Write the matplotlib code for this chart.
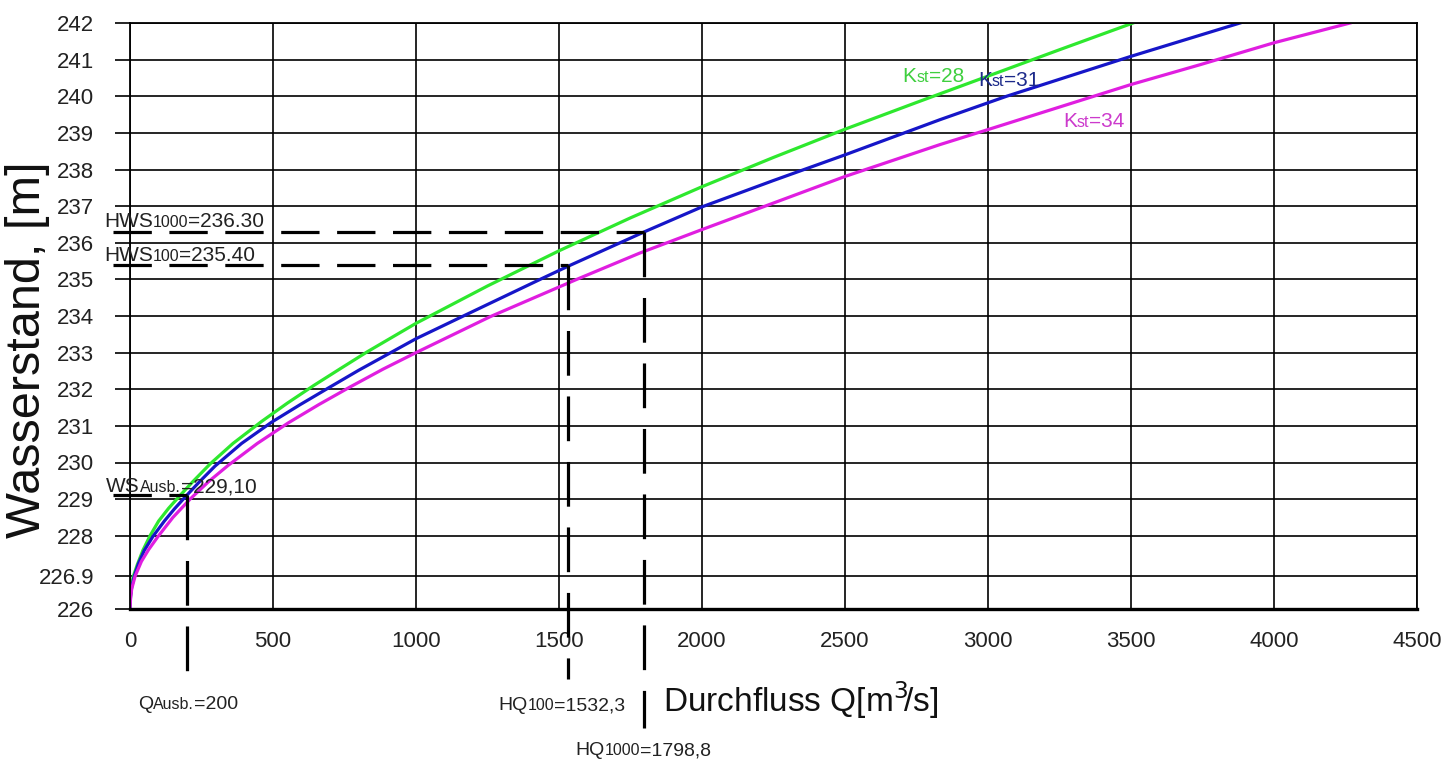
import numpy as np
import matplotlib
matplotlib.use('Agg')
import matplotlib.pyplot as plt
from matplotlib import font_manager as fm
from matplotlib import transforms

# Daten
q_k28 = [0, 2, 6, 12, 25, 45, 70, 100, 135, 175, 220, 280, 360, 460, 550, 642, 735, 829,
         1000, 1250, 1500, 1750, 2000, 2250, 2500, 2750, 3000, 3250, 3507]
h_k28 = [226, 226.4, 226.7, 226.9, 227.2, 227.6, 228, 228.4, 228.75, 229.1, 229.48, 229.96,
         230.52, 231.12, 231.62, 232.1, 232.56, 233.02, 233.8, 234.82, 235.78, 236.68, 237.53,
         238.33, 239.1, 239.83, 240.55, 241.27, 242]

q_k31 = [0, 2, 6, 15, 30, 50, 80, 120, 155, 192, 240, 297, 390, 495, 595, 697, 800, 907,
         1000, 1171, 1434, 1532, 1799, 2000, 2250, 2500, 2832, 3065, 3500, 3881]
h_k31 = [226, 226.35, 226.6, 226.9, 227.25, 227.6, 227.98, 228.4, 228.73, 229.05, 229.45,
         229.9, 230.52, 231.1, 231.58, 232.05, 232.52, 232.98, 233.38, 234.02, 235, 235.36,
         236.3, 236.98, 237.7, 238.4, 239.36, 240, 241.09, 242]

q_k34 = [0, 2, 6, 18, 40, 65, 98, 150, 210, 275, 343, 445, 553, 660, 769, 885, 1000, 1259,
         1562, 1783, 2000, 2500, 2832, 3000, 3500, 3741, 4000, 4266]
h_k34 = [226, 226.3, 226.55, 226.9, 227.3, 227.62, 227.98, 228.5, 229, 229.48, 229.92, 230.52,
         231.08, 231.58, 232.06, 232.55, 233, 233.98, 235, 235.72, 236.36, 237.81, 238.68,
         239.09, 240.32, 240.86, 241.46, 242]

x_ticks = [0, 500, 1000, 1500, 2000, 2500, 3000, 3500, 4000, 4500]
y_ticks = [226, 226.9, 228, 229, 230, 231, 232, 233, 234, 235, 236, 237, 238, 239, 240, 241, 242]
y_ticklabels = ['226', '226.9', '228', '229', '230', '231', '232', '233', '234', '235',
                '236', '237', '238', '239', '240', '241', '242']

# Bemessungswerte
q_ausb, ws_ausb = 200, 229.10
hq100, hws100 = 1532.3, 235.40
hq1000, hws1000 = 1798.8, 236.30

names = {f.name for f in fm.fontManager.ttflist}
narrow = 'Liberation Sans Narrow' if 'Liberation Sans Narrow' in names else 'Liberation Sans'

fig = plt.figure(figsize=(14.53, 7.6), dpi=100)
ax = fig.add_axes([130 / 1453, 1 - 609 / 760, 1287 / 1453, 586 / 760])

ax.plot(q_k28, h_k28, color='#2ee82e', lw=2.3)
ax.plot(q_k31, h_k31, color='#1616c8', lw=2.3)
ax.plot(q_k34, h_k34, color='#e01ee0', lw=2.3)

ax.set_xlim(0, 4500)
ax.set_ylim(226, 242)
ax.set_xticks(x_ticks)
ax.set_yticks(y_ticks)
ax.set_yticklabels(y_ticklabels)
ax.grid(True, color='black', lw=1.2)
ax.set_axisbelow(True)
for s in ax.spines.values():
    s.set_linewidth(1.3)
ax.spines['bottom'].set_linewidth(2.4)
ax.tick_params(axis='y', length=11, width=1.2, direction='out', pad=15, labelsize=16)
ax.tick_params(axis='x', length=0, pad=16, labelsize=16)
for lab in ax.get_xticklabels() + ax.get_yticklabels():
    lab.set_family(narrow)
    lab.set_color('#222222')

# gestrichelte Hilfslinien
dash = (0, (12, 5.5))
dash_v = (0, (14, 6.5))
ax.plot([-59, q_ausb], [ws_ausb, ws_ausb], color='black', lw=2.3, ls=dash, clip_on=False)
ax.plot([q_ausb, q_ausb], [ws_ausb, 224.06], color='black', lw=2.3, ls=dash_v, clip_on=False)
ax.plot([-59, hq100], [hws100, hws100], color='black', lw=2.3, ls=dash, clip_on=False)
ax.plot([hq100, hq100], [hws100, 224.09], color='black', lw=2.3, ls=dash_v, clip_on=False)
ax.plot([-59, hq1000], [hws1000, hws1000], color='black', lw=2.3, ls=dash, clip_on=False)
ax.plot([hq1000, hq1000], [hws1000, 222.75], color='black', lw=2.3, ls=dash_v, clip_on=False)

renderer = fig.canvas.get_renderer()


def parts_text(x, y, parts, color='#222222'):
    # Text aus Teilen mit verschiedenen Schriftgroessen, gleiche Grundlinie
    tr = ax.transData
    for s, size in parts:
        t = ax.text(x, y, s, fontsize=size, color=color, family=narrow,
                    ha='left', va='baseline', transform=tr, clip_on=False)
        w = t.get_window_extent(renderer=renderer).width
        tr = transforms.offset_copy(tr, x=w, units='dots')


parts_text(-91, 236.43, [('HWS', 15), ('1000', 11.5), ('=236.30', 15)])
parts_text(-91, 235.50, [('HWS', 15), ('100', 11.5), ('=235.40', 15)])
parts_text(-84, 229.19, [('WS', 15), ('Ausb.', 11.5), ('=229,10', 15)])
parts_text(28, 223.27, [('Q', 14), ('Ausb.', 11.5), ('=200', 14)])
parts_text(1287, 223.24, [('HQ', 14), ('100', 11.5), ('=1532,3', 14)])
parts_text(1556, 222.01, [('HQ', 14), ('1000', 11.5), ('=1798,8', 14)])

parts_text(2700, 240.39, [('K', 15), ('st', 11.5), ('=28', 15)], color='#3fcf3f')
parts_text(2965, 240.28, [('K', 15), ('st', 11.5), ('=31', 15)], color='#1c2a8a')
parts_text(3262, 239.16, [('K', 15), ('st', 11.5), ('=34', 15)], color='#cc3acc')

ax.text(1864, 223.19, r'Durchfluss Q[m$^{3}\!$/s]', fontsize=24, family='Liberation Sans',
        color='#111111', ha='left', va='baseline', clip_on=False)
fig.text(28 / 1453, 1 - 350 / 760, 'Wasserstand, [m]', rotation=90, fontsize=35,
         family='Liberation Sans', color='#111111', ha='center', va='center')

fig.savefig('out.png', dpi=100)
